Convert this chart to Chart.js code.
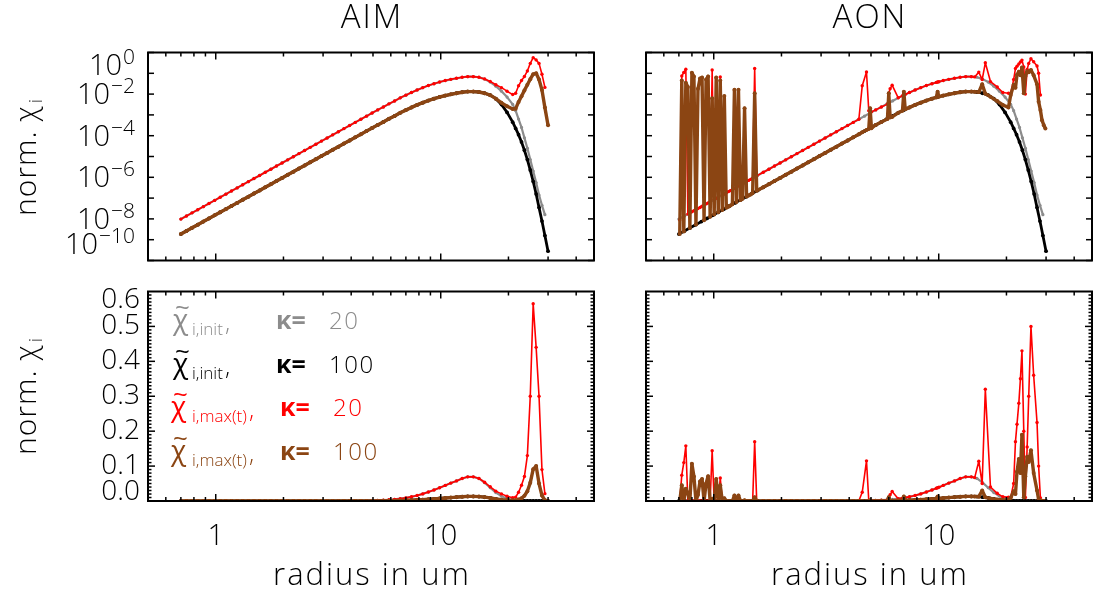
<!DOCTYPE html>
<html>
<head>
<meta charset="utf-8">
<script src="https://cdn.jsdelivr.net/npm/chart.js@4.4.0/dist/chart.umd.min.js"></script>
<style>
  body { margin: 0; background: #fff; }
  #wrap { position: relative; width: 1095px; height: 597px; }
  #wrap canvas { position: absolute; left: 0; top: 0; }
</style>
</head>
<body>
<div id="wrap">
  <canvas id="aimTop" width="1095" height="597"></canvas>
  <canvas id="aonTop" width="1095" height="597"></canvas>
  <canvas id="aimBottom" width="1095" height="597"></canvas>
  <canvas id="aonBottom" width="1095" height="597"></canvas>
</div>
<script>
// radius grid (um) shared by the init curves and the AIM run
const radiusAim = [
  0.700, 0.741, 0.785, 0.832, 0.881, 0.933, 0.989, 1.047, 1.109, 1.175,
  1.245, 1.318, 1.396, 1.479, 1.567, 1.660, 1.758, 1.862, 1.972, 2.089,
  2.213, 2.344, 2.483, 2.630, 2.786, 2.951, 3.126, 3.311, 3.508, 3.715,
  3.936, 4.169, 4.416, 4.677, 4.955, 5.248, 5.559, 5.888, 6.237, 6.607,
  6.998, 7.413, 7.852, 8.318, 8.810, 9.333, 9.886, 10.47, 11.09, 11.75,
  12.45, 13.18, 13.96, 14.79, 15.67, 16.60, 17.58, 18.62, 19.72, 20.89,
  21.53, 22.18, 22.86, 23.55, 24.27, 25.00, 25.76, 26.55, 27.35, 28.18,
  29.04, 29.99
];

// initial state, kappa = 20 (grey)
const chiInitK20 = [
  9.8e-9, 1.38e-8, 1.95e-8, 2.75e-8, 3.89e-8, 5.50e-8, 7.76e-8, 1.10e-7, 1.55e-7, 2.19e-7,
  3.09e-7, 4.37e-7, 6.17e-7, 8.71e-7, 1.23e-6, 1.74e-6, 2.45e-6, 3.47e-6, 4.90e-6, 6.92e-6,
  9.77e-6, 1.38e-5, 1.95e-5, 2.75e-5, 3.89e-5, 5.50e-5, 7.76e-5, 1.10e-4, 1.55e-4, 2.19e-4,
  3.09e-4, 4.37e-4, 6.17e-4, 8.71e-4, 1.23e-3, 1.74e-3, 2.40e-3, 3.39e-3, 4.68e-3, 6.61e-3,
  8.91e-3, 1.20e-2, 1.58e-2, 2.04e-2, 2.57e-2, 3.16e-2, 3.80e-2, 4.47e-2, 5.13e-2, 5.75e-2,
  6.46e-2, 6.92e-2, 6.92e-2, 6.46e-2, 5.25e-2, 3.80e-2, 2.40e-2, 1.38e-2, 7.2e-3, 3.2e-3,
  1.6e-3, 6.3e-4, 2.5e-4, 7.9e-5, 2.5e-5, 7.1e-6, 2.0e-6, 5.6e-7, 1.4e-7, 4.5e-8,
  1.6e-8, null
];

// initial state, kappa = 100 (black)
const chiInitK100 = [
  1.86e-9, 2.63e-9, 3.72e-9, 5.25e-9, 7.41e-9, 1.05e-8, 1.48e-8, 2.09e-8, 2.95e-8, 4.17e-8,
  5.89e-8, 8.32e-8, 1.17e-7, 1.66e-7, 2.34e-7, 3.31e-7, 4.68e-7, 6.61e-7, 9.33e-7, 1.32e-6,
  1.86e-6, 2.63e-6, 3.72e-6, 5.25e-6, 7.41e-6, 1.05e-5, 1.48e-5, 2.09e-5, 2.95e-5, 4.17e-5,
  5.89e-5, 8.32e-5, 1.17e-4, 1.66e-4, 2.34e-4, 3.31e-4, 4.57e-4, 6.46e-4, 8.91e-4, 1.26e-3,
  1.70e-3, 2.29e-3, 3.02e-3, 3.89e-3, 4.90e-3, 6.03e-3, 7.24e-3, 8.51e-3, 9.77e-3, 1.10e-2,
  1.23e-2, 1.32e-2, 1.32e-2, 1.26e-2, 1.10e-2, 8.91e-3, 6.03e-3, 3.16e-3, 1.32e-3, 4.47e-4,
  2.24e-4, 1.12e-4, 5.0e-5, 2.0e-5, 7.1e-6, 2.24e-6, 6.3e-7, 1.58e-7, 3.5e-8, 7.9e-9,
  1.58e-9, 2.8e-10
];

// AIM: maximum over time, kappa = 20 (red)
const chiMaxK20Aim = [
  9.8e-9, 1.38e-8, 1.95e-8, 2.75e-8, 3.89e-8, 5.50e-8, 7.76e-8, 1.10e-7, 1.55e-7, 2.19e-7,
  3.09e-7, 4.37e-7, 6.17e-7, 8.71e-7, 1.23e-6, 1.74e-6, 2.45e-6, 3.47e-6, 4.90e-6, 6.92e-6,
  9.77e-6, 1.38e-5, 1.95e-5, 2.75e-5, 3.89e-5, 5.50e-5, 7.76e-5, 1.10e-4, 1.55e-4, 2.19e-4,
  3.09e-4, 4.37e-4, 6.17e-4, 8.71e-4, 1.23e-3, 1.74e-3, 2.40e-3, 3.39e-3, 4.68e-3, 6.61e-3,
  8.91e-3, 1.20e-2, 1.58e-2, 2.04e-2, 2.57e-2, 3.16e-2, 3.80e-2, 4.47e-2, 5.13e-2, 5.75e-2,
  6.46e-2, 6.92e-2, 6.92e-2, 6.46e-2, 5.37e-2, 4.07e-2, 2.82e-2, 2.04e-2, 1.38e-2, 9.5e-3,
  1.1e-2, 2.5e-2, 4.5e-2, 7.0e-2, 0.13, 0.30, 0.565, 0.44, 0.30, 0.09,
  0.021, null
];

// AIM: maximum over time, kappa = 100 (brown)
const chiMaxK100Aim = [
  1.86e-9, 2.63e-9, 3.72e-9, 5.25e-9, 7.41e-9, 1.05e-8, 1.48e-8, 2.09e-8, 2.95e-8, 4.17e-8,
  5.89e-8, 8.32e-8, 1.17e-7, 1.66e-7, 2.34e-7, 3.31e-7, 4.68e-7, 6.61e-7, 9.33e-7, 1.32e-6,
  1.86e-6, 2.63e-6, 3.72e-6, 5.25e-6, 7.41e-6, 1.05e-5, 1.48e-5, 2.09e-5, 2.95e-5, 4.17e-5,
  5.89e-5, 8.32e-5, 1.17e-4, 1.66e-4, 2.34e-4, 3.31e-4, 4.57e-4, 6.46e-4, 8.91e-4, 1.26e-3,
  1.70e-3, 2.29e-3, 3.02e-3, 3.89e-3, 4.90e-3, 6.03e-3, 7.24e-3, 8.51e-3, 9.77e-3, 1.10e-2,
  1.23e-2, 1.32e-2, 1.32e-2, 1.26e-2, 1.10e-2, 8.91e-3, 6.03e-3, 3.80e-3, 2.63e-3, 1.91e-3,
  2.0e-3, 4.2e-3, 7.9e-3, 1.51e-2, 2.8e-2, 5.2e-2, 9.1e-2, 0.10, 5.0e-2, 1.58e-2,
  2.24e-3, 3.2e-4
];

// radius grid of the AON run (finer where the spikes are)
const radiusAon = [
  0.7063, 0.7211, 0.7362, 0.7516, 0.7674, 0.7834, 0.7998, 0.8166, 0.8337, 0.8511,
  0.8690, 0.8872, 0.9057, 0.9247, 0.9441, 0.9638, 0.9840, 1.0046, 1.0257, 1.0471,
  1.0691, 1.0914, 1.1143, 1.1376, 1.1614, 1.1858, 1.2106, 1.2359, 1.2618, 1.2882,
  1.3152, 1.3428, 1.3709, 1.3996, 1.4289, 1.4588, 1.4894, 1.5205, 1.5524,
  1.660, 1.758, 1.862, 1.972, 2.089, 2.213, 2.344, 2.483, 2.630, 2.786,
  2.951, 3.126, 3.311, 3.508, 3.715, 3.936, 4.169, 4.416, 4.571, 4.775,
  4.887, 4.955, 5.023, 5.248, 5.559, 5.916, 5.998, 6.081, 6.209, 6.607,
  6.902, 6.998, 7.096, 7.413, 7.852, 8.318, 8.810, 9.333, 9.750, 9.886,
  10.02, 10.47, 11.09, 11.75, 12.45, 13.18, 13.96, 14.45, 15.07, 15.60,
  16.11, 16.98, 18.20, 19.28, 20.42,
  20.89, 21.53, 21.93, 22.28, 22.70, 23.07, 23.44, 23.88, 24.27, 24.72,
  25.12, 25.70, 26.42, 27.35, 27.80, 28.31, 28.77, 29.31, 29.79
];

// AON: maximum over time, kappa = 20 (red)
const chiMaxK20Aon = [
  8.9e-9, 0.074, 0.11, 0.158, 1.70e-8, 1.95e-8, 2.19e-8, 2.45e-8, 2.82e-8, 3.16e-8,
  3.55e-8, 4.07e-8, 4.57e-8, 5.25e-8, 5.89e-8, 6.61e-8, 0.144, 8.51e-8, 9.77e-8, 1.10e-7,
  0.066, 1.41e-7, 1.58e-7, 1.82e-7, 2.04e-7, 2.29e-7, 2.63e-7, 2.95e-7, 3.39e-7, 3.80e-7,
  4.27e-7, 4.90e-7, 5.50e-7, 6.31e-7, 7.08e-7, 7.94e-7, 9.12e-7, 0.17, 1.17e-6,
  1.74e-6, 2.45e-6, 3.47e-6, 4.90e-6, 6.92e-6, 9.77e-6, 1.38e-5, 1.95e-5, 2.75e-5, 3.89e-5,
  5.50e-5, 7.76e-5, 1.10e-4, 1.55e-4, 2.19e-4, 3.09e-4, 4.37e-4, 6.17e-4, 0.025, 0.115,
  1.6e-3, 1.5e-3, 1.4e-3, 1.74e-3, 2.40e-3, 3.3e-3, 0.011, 0.018, 0.027, 6.61e-3,
  8.3e-3, 8.91e-3, 9.6e-3, 1.20e-2, 1.58e-2, 2.04e-2, 2.57e-2, 3.16e-2, 3.65e-2, 3.80e-2,
  3.95e-2, 4.47e-2, 5.13e-2, 5.75e-2, 6.46e-2, 6.92e-2, 6.92e-2, 6.7e-2, 0.114, 0.05,
  0.32, 0.04, 0.022, 0.012, 0.011,
  0.011, 0.05, 0.17, 0.22, 0.28, 0.35, 0.43, 0.20, 0.01, 0.155,
  0.30, 0.50, 0.36, 0.225, 0.10, 0.009, null, null, null
];

// AON: maximum over time, kappa = 100 (brown)
const chiMaxK100Aon = [
  1.86e-9, 0.045, 2.51e-9, 0.035, 0.022, 3.63e-9, 0.107, 0.07, 5.37e-9, 0.018,
  0.056, 0.063, 8.71e-9, 0.05, 0.071, 1.26e-8, 0.0063, 1.62e-8, 0.063, 2.09e-8,
  0.045, 2.69e-8, 0.008, 3.47e-8, 3.89e-8, 4.37e-8, 5.01e-8, 0.016, 6.46e-8, 0.016,
  8.13e-8, 9.33e-8, 0.0021, 1.20e-7, 1.35e-7, 1.51e-7, 1.74e-7, 0.011, 2.24e-7,
  3.31e-7, 4.68e-7, 6.61e-7, 9.33e-7, 1.32e-6, 1.86e-6, 2.63e-6, 3.72e-6, 5.25e-6, 7.41e-6,
  1.05e-5, 1.48e-5, 2.09e-5, 2.95e-5, 4.17e-5, 5.89e-5, 8.32e-5, 1.17e-4, 1.45e-4, 1.9e-4,
  2.1e-4, 2.1e-3, 2.3e-4, 3.31e-4, 4.57e-4, 6.3e-4, 0.011, 7.6e-4, 8.0e-4, 1.26e-3,
  1.6e-3, 0.013, 1.85e-3, 2.29e-3, 3.02e-3, 3.89e-3, 4.90e-3, 6.03e-3, 6.9e-3, 0.013,
  7.5e-3, 8.51e-3, 9.77e-3, 1.10e-2, 1.23e-2, 1.32e-2, 1.32e-2, 1.30e-2, 1.25e-2, 0.03,
  1.05e-2, 7.4e-3, 4.6e-3, 3.0e-3, 2.3e-3,
  0.009, 0.028, 0.02, 0.084, 0.12, 0.08, 0.19, 0.011, 0.07, 0.127,
  0.112, 0.145, 0.08, 0.03, 0.0043, 0.0017, 5.6e-4, 3.2e-4, 2.2e-4
];

// axis ticks and labels
const xMajorTicks = [1, 10];
const xTickLabels = ['1', '10'];
const xMinorTicks = [0.6, 0.7, 0.8, 0.9, 2, 3, 4, 5, 6, 7, 8, 9, 20, 30, 40];
const yLogTicks = [1e-10, 1e-9, 1e-8, 1e-7, 1e-6, 1e-5, 1e-4, 1e-3, 1e-2, 1e-1, 1];
const yLogLabelValues = [1, 1e-2, 1e-4, 1e-6, 1e-8, 1e-10];
const yLogLabelExps = ['0', '\u22122', '\u22124', '\u22126', '\u22128', '\u221210'];
const yLinMajorTicks = [0, 0.1, 0.2, 0.3, 0.4, 0.5, 0.6];
const yLinTickLabels = ['0.0', '0.1', '0.2', '0.3', '0.4', '0.5', '0.6'];

const FONT = '"Open Sans", "DejaVu Sans", sans-serif';
const THIN = '300 ';
const RED = '#ff0000', BROWN = '#8b4513', GRAY = '#8c8c8c', BLACK = '#000000';
const W = 1095, H = 597;

const legendRows = [
  { color: GRAY, sub: 'i,init', kappa: '20' },
  { color: BLACK, sub: 'i,init', kappa: '100' },
  { color: RED, sub: 'i,max(t)', kappa: '20' },
  { color: BROWN, sub: 'i,max(t)', kappa: '100' }
];

function font(size, weight) {
  return (weight || THIN) + size + 'px ' + FONT;
}

function spacing(ctx, px) {
  if ('letterSpacing' in ctx) ctx.letterSpacing = px + 'px';
}

function toPoints(xs, ys) {
  return xs.map((x, i) => ({ x: x, y: ys[i] }));
}

function lineSet(xs, ys, color, width, radius) {
  return {
    data: toPoints(xs, ys),
    borderColor: color,
    backgroundColor: color,
    borderWidth: width,
    borderJoinStyle: 'round',
    pointRadius: radius,
    pointBorderWidth: 0,
    pointBackgroundColor: color,
    pointHoverRadius: 0,
    tension: 0,
    fill: false,
    spanGaps: false
  };
}

function tick(ctx, x1, y1, x2, y2) {
  ctx.beginPath();
  ctx.moveTo(x1, y1);
  ctx.lineTo(x2, y2);
  ctx.stroke();
}

function drawYTitle(ctx, cy) {
  ctx.save();
  ctx.translate(26, cy);
  ctx.rotate(-Math.PI / 2);
  ctx.fillStyle = '#000';
  ctx.textBaseline = 'alphabetic';
  ctx.textAlign = 'left';
  spacing(ctx, 1);
  ctx.font = font(30);
  const w1 = ctx.measureText('norm. \u03c7').width;
  ctx.font = font(19);
  const w2 = ctx.measureText('i').width;
  const x0 = -(w1 + w2 + 2) / 2;
  ctx.font = font(30);
  ctx.fillText('norm. \u03c7', x0, 10);
  ctx.font = font(19);
  ctx.fillText('i', x0 + w1 + 2, 16);
  ctx.restore();
}

function drawLegend(ctx) {
  ctx.save();
  ctx.textAlign = 'left';
  ctx.textBaseline = 'alphabetic';
  legendRows.forEach((row, i) => {
    const base = 329 + i * 43.5;
    const shift = i > 1 ? -2 : 0;
    ctx.fillStyle = row.color;
    ctx.font = font(28, '400 ');
    ctx.fillText('\u03c7', 173 + shift, base);
    ctx.font = font(26, '400 ');
    ctx.fillText('~', 175 + shift, base - 13);
    ctx.font = font(17);
    const subW = ctx.measureText(row.sub).width;
    ctx.fillText(row.sub, 192, base + 6);
    ctx.font = font(24);
    ctx.fillText(',', 194 + subW, base + 2);
    ctx.font = font(25, '700 ');
    ctx.fillText('\u03ba=', 276 + (i > 1 ? 4 : 0), base);
    spacing(ctx, 1.5);
    ctx.font = font(24);
    ctx.fillText(row.kappa, 329 + (i > 1 ? 4 : 0), base);
    spacing(ctx, 0);
  });
  ctx.restore();
}

// box, inward ticks on all four sides, and the text around each panel
const framePlugin = {
  id: 'frame',
  afterDatasetsDraw(chart, args, opts) {
    const { ctx, chartArea: a, scales } = chart;
    const xs = scales.x, ys = scales.y;
    ctx.save();
    ctx.strokeStyle = '#000';
    ctx.lineWidth = 1.5;

    xMajorTicks.forEach(v => {
      const px = xs.getPixelForValue(v);
      tick(ctx, px, a.bottom, px, a.bottom - 7);
      tick(ctx, px, a.top, px, a.top + 7);
    });
    xMinorTicks.forEach(v => {
      const px = xs.getPixelForValue(v);
      tick(ctx, px, a.bottom, px, a.bottom - 4);
      tick(ctx, px, a.top, px, a.top + 4);
    });

    if (opts.log) {
      yLogTicks.forEach(v => {
        const py = ys.getPixelForValue(v);
        tick(ctx, a.left, py, a.left + 6, py);
        tick(ctx, a.right, py, a.right - 6, py);
      });
    } else {
      for (let k = 1; k < 60; k++) {
        const py = ys.getPixelForValue(k / 100);
        const len = k % 10 === 0 ? 7 : 3.5;
        tick(ctx, a.left, py, a.left + len, py);
        tick(ctx, a.right, py, a.right - len, py);
      }
    }

    ctx.lineWidth = 2;
    ctx.strokeRect(a.left, a.top, a.right - a.left, a.bottom - a.top);

    ctx.fillStyle = '#000';
    if (opts.title) {
      spacing(ctx, 2);
      ctx.font = font(33);
      ctx.textAlign = 'center';
      ctx.textBaseline = 'middle';
      ctx.fillText(opts.title, (a.left + a.right) / 2 + 1, 19);
      spacing(ctx, 0);
    }

    if (opts.yLabels && opts.log) {
      yLogLabelValues.forEach((v, i) => {
        const py = Math.min(Math.max(ys.getPixelForValue(v), a.top + 12), a.bottom - 17);
        ctx.textBaseline = 'alphabetic';
        ctx.textAlign = 'right';
        ctx.font = font(21);
        ctx.fillText(yLogLabelExps[i], 135, py - 1);
        const ew = ctx.measureText(yLogLabelExps[i]).width;
        ctx.font = font(29);
        ctx.fillText('10', 135 - ew - 1, py + 10);
      });
      drawYTitle(ctx, 157);
    }
    if (opts.yLabels && !opts.log) {
      ctx.font = font(28);
      ctx.textAlign = 'right';
      ctx.textBaseline = 'middle';
      yLinMajorTicks.forEach((v, i) => {
        const py = Math.min(Math.max(ys.getPixelForValue(v), a.top + 9), a.bottom - 9);
        ctx.fillText(yLinTickLabels[i], 140, py);
      });
      drawYTitle(ctx, 396);
    }
    if (opts.xLabels) {
      ctx.font = font(29);
      ctx.textAlign = 'center';
      ctx.textBaseline = 'middle';
      xMajorTicks.forEach((v, i) => {
        ctx.fillText(xTickLabels[i], xs.getPixelForValue(v), 537);
      });
      spacing(ctx, 2);
      ctx.font = font(31);
      ctx.fillText('radius in um', (a.left + a.right) / 2 + 1, 576);
      spacing(ctx, 0);
    }
    if (opts.legend) drawLegend(ctx);
    ctx.restore();
  }
};

const panels = [
  { id: 'aimTop', aon: false, log: true, area: [148, 52.5, 594, 260.5], title: 'AIM', yLabels: true },
  { id: 'aonTop', aon: true, log: true, area: [646, 52.5, 1092, 260.5], title: 'AON' },
  { id: 'aimBottom', aon: false, log: false, area: [148, 291.5, 594, 501], yLabels: true, xLabels: true, legend: true },
  { id: 'aonBottom', aon: true, log: false, area: [646, 291.5, 1092, 501], xLabels: true }
];

panels.forEach(p => {
  const maxR = p.aon ? radiusAon : radiusAim;
  const maxK20 = p.aon ? chiMaxK20Aon : chiMaxK20Aim;
  const maxK100 = p.aon ? chiMaxK100Aon : chiMaxK100Aim;
  // first dataset is painted last, so brown ends up on top
  const datasets = [
    lineSet(maxR, maxK100, BROWN, 3.4, 2),
    lineSet(maxR, maxK20, RED, 1.6, 1.7),
    lineSet(radiusAim, chiInitK100, BLACK, 2.8, 1.9),
    lineSet(radiusAim, chiInitK20, GRAY, 2.2, 1.6)
  ];
  new Chart(document.getElementById(p.id), {
    type: 'line',
    data: { datasets: datasets },
    options: {
      responsive: false,
      animation: false,
      devicePixelRatio: 1,
      events: [],
      layout: {
        padding: { left: p.area[0], top: p.area[1], right: W - p.area[2], bottom: H - p.area[3] }
      },
      scales: {
        x: { type: 'logarithmic', min: 0.5, max: 48, display: false },
        y: p.log
          ? { type: 'logarithmic', min: 1e-10, max: 1, display: false }
          : { type: 'linear', min: 0, max: 0.6, display: false }
      },
      plugins: {
        legend: { display: false },
        tooltip: { enabled: false },
        frame: { log: p.log, title: p.title, yLabels: p.yLabels, xLabels: p.xLabels, legend: p.legend }
      }
    },
    plugins: [framePlugin]
  });
});
</script>
</body>
</html>
